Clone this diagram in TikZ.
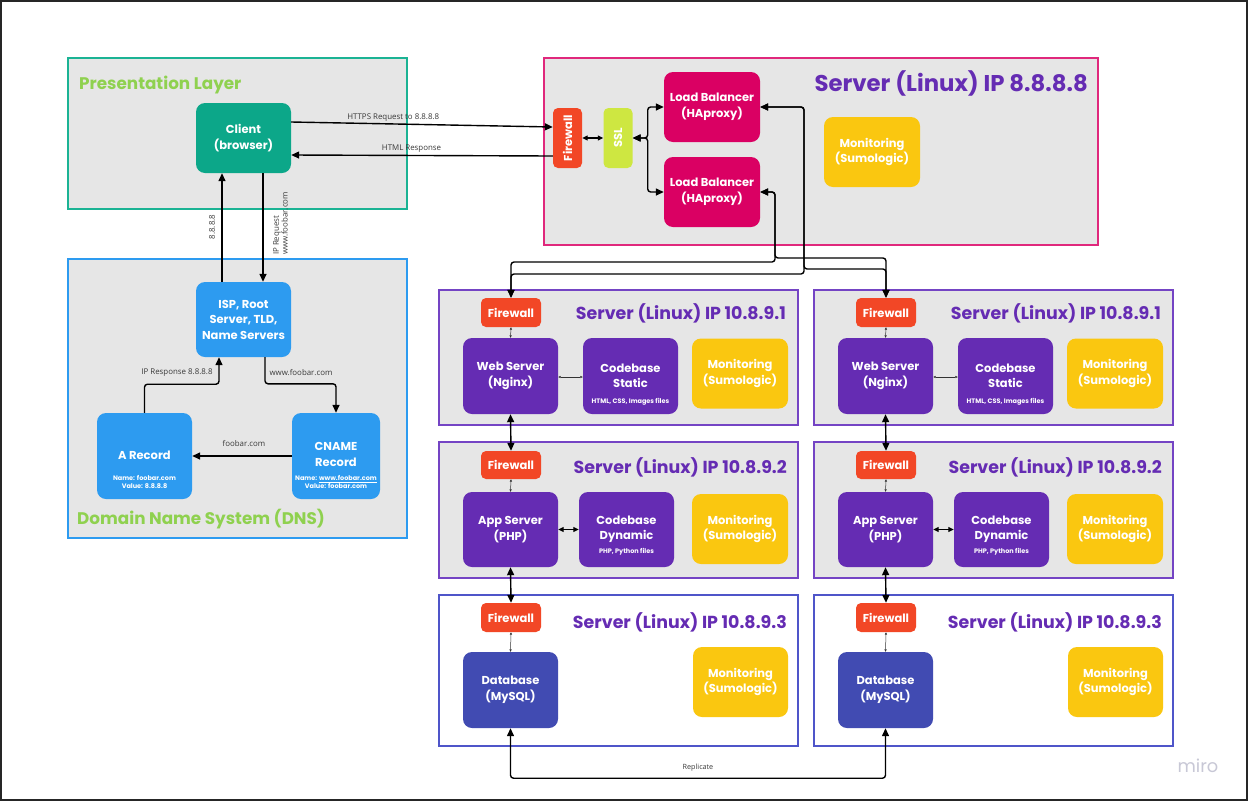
\documentclass[tikz,border=0pt]{standalone}
\usepackage{fontspec}
\usepackage{graphicx}
\setmainfont{Poppins}
\newfontfamily\labfont{Open Sans}
\usetikzlibrary{calc,arrows.meta}
\definecolor{bgray}{HTML}{E6E6E6}
\definecolor{tealb}{HTML}{1BB394}
\definecolor{clientc}{HTML}{0CA789}
\definecolor{dnsblue}{HTML}{2D9BF0}
\definecolor{gtitle}{HTML}{8FD14F}
\definecolor{magb}{HTML}{E0287C}
\definecolor{lbc}{HTML}{DA0063}
\definecolor{fwred}{HTML}{F24726}
\definecolor{sslg}{HTML}{CEE741}
\definecolor{monc}{HTML}{FAC710}
\definecolor{purp}{HTML}{652CB3}
\definecolor{webb}{HTML}{7444C4}
\definecolor{dbc}{HTML}{414BB2}
\definecolor{dbb}{HTML}{4F55C9}
\definecolor{labc}{HTML}{3A3A3A}
\definecolor{miroc}{HTML}{C8C8D6}
\begin{document}
\begin{tikzpicture}[x=1pt,y=-1pt,
  nd/.style={rectangle, rounded corners=9, text=white, align=center, inner sep=0pt,
    font=\bfseries\fontsize{11.5}{15.5}\selectfont},
  fwbox/.style={nd, fill=fwred, rounded corners=5, minimum width=60, minimum height=29},
  monbox/.style={nd, fill=monc, minimum width=96, minimum height=70},
  smalltxt/.style={text=white, align=center, inner sep=0pt, font=\bfseries\fontsize{6.5}{8}\selectfont},
  lbl/.style={text=labc, inner sep=1pt, font=\labfont\fontsize{7.9}{9.5}\selectfont},
  gtit/.style={text=gtitle, inner sep=0pt, font=\bfseries\fontsize{16.8}{19}\selectfont},
  stit/.style={text=purp, inner sep=0pt, font=\bfseries\fontsize{17.4}{20}\selectfont},
  conn/.style={line width=1.4, black, -{Triangle[length=8,width=7]}},
  bi/.style={line width=1.4, black, {Triangle[length=8,width=7]}-{Triangle[length=8,width=7]}, rounded corners=3},
  bimid/.style={line width=1.1, black, {Triangle[length=5.5,width=5]}-{Triangle[length=5.5,width=5]}},
  bitiny/.style={line width=0.5, black!80, {Triangle[length=2.5,width=2.2]}-{Triangle[length=2.5,width=2.2]}},
  cont/.style={line width=1.5}
]
\useasboundingbox (0,0) rectangle (1248,801);
\fill[white] (0,0) rectangle (1248,801);
\draw[line width=2, black!85] (1,1) rectangle (1247,800);

% ---------- Presentation layer ----------
\draw[cont, draw=tealb, fill=bgray] (68,58) rectangle (407,209);
\node[gtit, anchor=west] (ptitle) at (79,85) {Presentation Layer};
\node[nd, fill=clientc, minimum width=95, minimum height=70] (client) at (243.5,138) {Client\\(browser)};

% ---------- DNS ----------
\draw[cont, draw=dnsblue, fill=bgray] (68,259) rectangle (407,538);
\node[gtit, anchor=west] (dtitle) at (77,519) {Domain Name System (DNS)};
\node[nd, fill=dnsblue, minimum width=95, minimum height=75] (isp) at (243.5,319.5) {ISP, Root\\Server, TLD,\\Name Servers};
\node[nd, fill=dnsblue, minimum width=95, minimum height=86] (arec) at (144.5,456) {};
\node[nd] (arect) at (144.5,455) {A Record};
\node[smalltxt] (arecs) at (144.5,482) {Name: foobar.com\\Value: 8.8.8.8};
\node[nd, fill=dnsblue, minimum width=88, minimum height=86] (cname) at (336,456) {};
\node[nd] (cnamet) at (336,454.5) {CNAME\\Record};
\node[smalltxt] (cnames) at (336,482) {Name: \underline{www.foobar.com}\\Value: foobar.com};

\draw[conn] ($(isp.north)+(-21.5,0)$) -- ($(client.south)+(-21.5,0)$);
\node[lbl, rotate=90] (l88) at (212,227) {8.8.8.8};
\draw[conn] ($(client.south)+(19.5,0)$) -- ($(isp.north)+(19.5,0)$);
\node[lbl, rotate=90, align=left, font=\labfont\fontsize{7.9}{8.8}\selectfont] (lipr) at (280.5,223.5) {IP Request\\www.foobar.com};

\draw[conn, rounded corners=3] (arec.north) |- ($(isp.south)+(-24.5,27)$) -- ($(isp.south)+(-24.5,0)$);
\node[lbl] (lipresp) at (177,373) {IP Response 8.8.8.8};
\draw[conn, rounded corners=3] ($(isp.south)+(21.5,0)$) |- ($(cname.north)+(0,-29)$) -- (cname.north);
\node[lbl] (lwww) at (301,373) {www.foobar.com};
\draw[conn] (cname.west) -- (arec.east);
\node[lbl] (lfoo) at (244,444) {foobar.com};

% ---------- Top server ----------
\draw[cont, draw=magb, fill=bgray] (544,58) rectangle (1098,245);
\node[text=purp, inner sep=0pt, anchor=east, font=\bfseries\fontsize{22.8}{26}\selectfont] (ttitle) at (1088,83) {Server (Linux) IP 8.8.8.8};
\node[nd, fill=fwred, rounded corners=5, minimum width=29, minimum height=60] (fw0) at (567.5,138) {\rotatebox{90}{Firewall}};
\node[nd, fill=sslg, rounded corners=5, minimum width=29, minimum height=60] (ssl) at (618,138) {\rotatebox{90}{SSL}};
\node[nd, fill=lbc, minimum width=96, minimum height=70] (lb1) at (712,107) {Load Balancer\\(HAproxy)};
\node[nd, fill=lbc, minimum width=96, minimum height=70] (lb2) at (712,192) {Load Balancer\\(HAproxy)};
\node[monbox] (mon0) at (872,152) {Monitoring\\(Sumologic)};

\draw[conn] ($(client.east)+(0,-16)$) -- node[lbl, pos=0.39, above=1pt] (lhttps) {HTTPS Request to 8.8.8.8} ($(fw0.west)+(0,-11)$);
\draw[conn] ($(fw0.west)+(0,18)$) -- node[lbl, pos=0.54, above=1pt] (lhtml) {HTML Response} ($(client.east)+(0,17)$);
\draw[bimid] (fw0.east) -- (ssl.west);
\draw[bi] (ssl.east) -- ++(15,0) |- (lb1.west);
\draw[bi] (ssl.east) -- ++(15,0) |- (lb2.west);

% ---------- Columns ----------
\foreach \c/\dx in {L/0,R/375}{
  % web tier
  \draw[cont, draw=webb, fill=bgray] (439+\dx,290) rectangle (798+\dx,425);
  \node[fwbox] (fwW\c) at (511+\dx,312.5) {Firewall};
  \node[stit, anchor=east] (twW\c) at (786+\dx,313) {Server (Linux) IP 10.8.9.1};
  \node[nd, fill=purp, minimum width=95, minimum height=76] (web\c) at (510.5+\dx,376) {Web Server\\(Nginx)};
  \node[nd, fill=purp, minimum width=95, minimum height=76] (codeS\c) at (630.5+\dx,376) {Codebase\\Static};
  \node[smalltxt] (codeSs\c) at (630.5+\dx,402) {HTML, CSS, Images files};
  \node[monbox] (monW\c) at (740+\dx,373.5) {Monitoring\\(Sumologic)};
  \draw[bitiny] (fwW\c.south) -- (web\c.north);
  \draw[bitiny] ($(web\c.east)+(0,1)$) -- ($(codeS\c.west)+(0,1)$);
  % app tier
  \draw[cont, draw=webb, fill=bgray] (439+\dx,442) rectangle (798+\dx,578);
  \node[fwbox, minimum height=28] (fwA\c) at (511+\dx,465) {Firewall};
  \node[stit, anchor=east] (twA\c) at (787+\dx,467) {Server (Linux) IP 10.8.9.2};
  \node[nd, fill=purp, minimum width=95, minimum height=75] (app\c) at (510.5+\dx,529.5) {App Server\\(PHP)};
  \node[nd, fill=purp, minimum width=95, minimum height=75] (codeD\c) at (626.5+\dx,529.5) {Codebase\\Dynamic};
  \node[smalltxt] (codeDs\c) at (626.5+\dx,552) {PHP, Python files};
  \node[monbox] (monA\c) at (740+\dx,529) {Monitoring\\(Sumologic)};
  \draw[bitiny] (fwA\c.south) -- (app\c.north);
  \draw[bimid] (app\c.east) -- (codeD\c.west);
  \draw[bi] (web\c.south) -- (fwA\c.north);
  % db tier
  \draw[cont, draw=dbb, fill=white] (439+\dx,595) rectangle (798+\dx,746);
  \node[fwbox] (fwD\c) at (511+\dx,617.5) {Firewall};
  \node[stit, anchor=east] (twD\c) at (787+\dx,622) {Server (Linux) IP 10.8.9.3};
  \node[nd, fill=dbc, minimum width=95, minimum height=76] (db\c) at (510.5+\dx,690) {Database\\(MySQL)};
  \node[monbox, minimum width=95] (monD\c) at (740.5+\dx,682) {Monitoring\\(Sumologic)};
  \draw[bitiny] (fwD\c.south) -- (db\c.north);
  \draw[bi] (app\c.south) -- (fwD\c.north);
}

% ---------- LB to web firewalls ----------
\coordinate (j1a) at (804,274);
\coordinate (j1b) at (804,269);
\coordinate (j2a) at (775,262);
\coordinate (j2b) at (775,258);
\draw[bi] (lb1.east) -| (j1a) -| (fwWL.north);
\draw[bi] (lb1.east) -| (j1b) -| (fwWR.north);
\draw[bi] (lb2.east) -| (j2a) -| (fwWL.north);
\draw[bi] (lb2.east) -| (j2b) -| (fwWR.north);

% ---------- Replicate ----------
\draw[bi] (dbL.south) -- ++(0,50) -| (dbR.south);
\node[lbl, font=\labfont\fontsize{7.2}{8.5}\selectfont] (lrep) at (698,768) {Replicate};

\node[text=miroc, inner sep=0pt, font=\fontsize{17.8}{20}\selectfont] (miro) at (1198,766) {miro};
\end{tikzpicture}
\end{document}
